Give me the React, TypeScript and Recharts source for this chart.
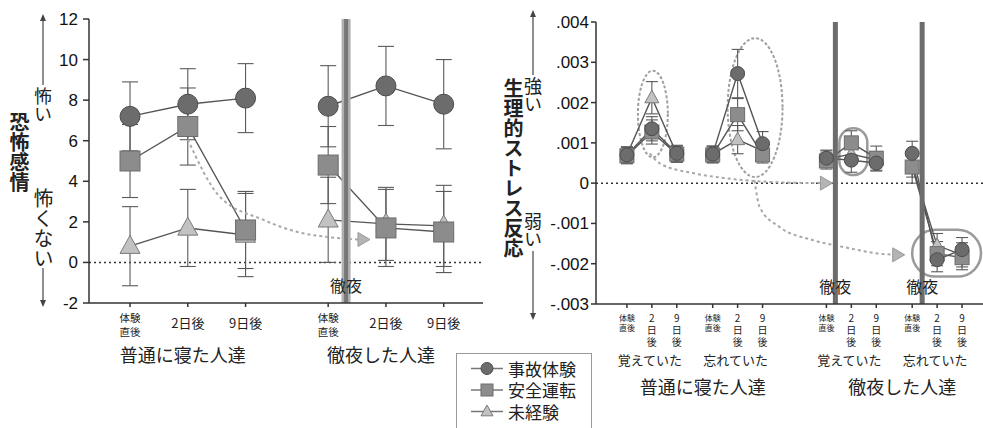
import React from "react";
import {
  ComposedChart,
  Line,
  XAxis,
  YAxis,
  ErrorBar,
  ReferenceLine,
  ReferenceArea,
  ReferenceDot,
} from "recharts";

const JP = '"Noto Sans CJK JP", "Noto Sans", sans-serif';
const NUM = '"Liberation Sans", Arial, sans-serif';
const INK = "#222";

const seriesNames = ["事故体験", "安全運転", "未経験"];
const timeLabels = ["体験直後", "2日後", "9日後"];
const sleepGroups = ["普通に寝た人達", "徹夜した人達"];
const memoryGroups = ["覚えていた", "忘れていた"];

// 恐怖感情: 普通に寝た人達 x3, 徹夜した人達 x3
const fearAccident = [7.2, 7.8, 8.1, 7.7, 8.7, 7.8];
const fearAccidentErr = [1.7, 1.75, 1.7, 2.0, 1.95, 2.2];
const fearSafe = [5.0, 6.7, 1.6, 4.8, 1.7, 1.5];
const fearSafeErr = [1.8, 1.9, 1.9, 1.9, 1.9, 2.0];
const fearNone = [0.8, 1.7, 1.35, 2.1, 1.9, 1.8];
const fearNoneErr = [1.95, 1.9, 2.05, 2.1, 1.8, 2.0];
const fearTicks = [-2, 0, 2, 4, 6, 8, 10, 12];

// 生理的ストレス反応: (普通/徹夜) x (覚えていた/忘れていた) x (直後, 2日後, 9日後)
const stressAccident = [0.0007, 0.00135, 0.00074, 0.00072, 0.00272, 0.00098, 0.00062, 0.00057, 0.0005, 0.00074, -0.0019, -0.00165];
const stressAccidentErr = [0.0002, 0.0003, 0.0002, 0.0002, 0.0006, 0.0003, 0.0002, 0.0003, 0.0002, 0.0003, 0.0003, 0.0003];
const stressSafe = [0.00068, 0.00127, 0.00072, 0.0007, 0.0017, 0.0007, 0.00055, 0.001, 0.00062, 0.0004, -0.00175, -0.00185];
const stressSafeErr = [0.0002, 0.0003, 0.0002, 0.0002, 0.0004, 0.0002, 0.0002, 0.0003, 0.0003, 0.0004, 0.0003, 0.0003];
const stressNone = [0.0007, 0.00212, 0.00072, 0.00072, 0.00108, 0.0008, 0.0006, 0.00072, 0.00058, 0.00045, -0.00155, -0.00178];
const stressNoneErr = [0.0002, 0.0004, 0.0002, 0.0002, 0.00035, 0.0002, 0.0002, 0.0002, 0.0002, 0.0003, 0.0003, 0.0003];
const stressTicks = [-0.003, -0.002, -0.001, 0, 0.001, 0.002, 0.003, 0.004];

// annotations (axis units)
const fearArrowPath = [
  { x: 1.0, y: 6.06 },
  { x: 1.55, y: 3.25 },
  { x: 2.29, y: 2.12 },
  { x: 2.93, y: 1.48 },
  { x: 3.5, y: 1.23 },
  { x: 3.95, y: 1.13 },
];
const stressArrowA = [
  { x: 0.92, y: 0.00074 },
  { x: 1.32, y: 0.00049 },
  { x: 2.64, y: 0.00025 },
  { x: 4.0, y: 0.00012 },
  { x: 6.12, y: 0.00002 },
  { x: 7.9, y: 0.0 },
];
const stressArrowB = [
  { x: 5.12, y: 0.00007 },
  { x: 5.32, y: -0.00059 },
  { x: 6.12, y: -0.00109 },
  { x: 7.44, y: -0.00141 },
  { x: 8.8, y: -0.0016 },
  { x: 10.12, y: -0.00175 },
  { x: 10.8, y: -0.00178 },
];
const stressRings = [
  { x1: 0.44, x2: 1.64, y1: 0.00064, y2: 0.00279, dashed: true },
  { x1: 4.04, x2: 6.24, y1: 0.00015, y2: 0.0036, dashed: true },
  { x1: 8.52, x2: 9.64, y1: 0.0002, y2: 0.00136, dashed: false },
  { x1: 11.44, x2: 14.2, y1: -0.00232, y2: -0.00116, dashed: false },
];

const markerStyles = [
  { shape: "circle", fill: "#6c6c6c", stroke: "#4c4c4c" },
  { shape: "square", fill: "#8c8c8c", stroke: "#6c6c6c" },
  { shape: "triangle", fill: "#c2c2c2", stroke: "#7a7a7a" },
];

const fearX = (i: number) => Math.floor(i / 3) * 3.43 + (i % 3);
const stressX = (i: number) => Math.floor(i / 6) * 8 + Math.floor((i % 6) / 3) * 3.44 + (i % 3);
const fearPositions = fearAccident.map((_, i) => fearX(i));
const stressPositions = stressAccident.map((_, i) => stressX(i));

const fearSeries = [
  { v: fearAccident, e: fearAccidentErr },
  { v: fearSafe, e: fearSafeErr },
  { v: fearNone, e: fearNoneErr },
];
const stressSeries = [
  { v: stressAccident, e: stressAccidentErr },
  { v: stressSafe, e: stressSafeErr },
  { v: stressNone, e: stressNoneErr },
];

function groupRows(values: number[], errors: number[], pos: (i: number) => number, g: number) {
  return [0, 1, 2].map((k) => ({ x: pos(g * 3 + k), v: values[g * 3 + k], e: errors[g * 3 + k] }));
}

function Marker({ kind, cx, cy, size }: { kind: number; cx: number; cy: number; size: number }) {
  const st = markerStyles[kind];
  if (cx == null || cy == null) return <g />;
  if (st.shape === "circle")
    return <circle cx={cx} cy={cy} r={size / 2} fill={st.fill} stroke={st.stroke} strokeWidth={1} />;
  if (st.shape === "square")
    return (
      <rect x={cx - size / 2} y={cy - size / 2} width={size} height={size} fill={st.fill} stroke={st.stroke} strokeWidth={1} />
    );
  const h = size * 0.9;
  return (
    <polygon
      points={`${cx},${cy - h * 0.6} ${cx - size / 2},${cy + h * 0.4} ${cx + size / 2},${cy + h * 0.4}`}
      fill={st.fill}
      stroke={st.stroke}
      strokeWidth={1}
    />
  );
}

function renderSeries(
  series: { v: number[]; e: number[] }[],
  groups: number,
  pos: (i: number) => number,
  size: number,
  cap: number
) {
  const bars: React.ReactNode[] = [];
  const marks: React.ReactNode[] = [];
  [2, 1, 0].forEach((s) => {
    for (let g = 0; g < groups; g++) {
      const rows = groupRows(series[s].v, series[s].e, pos, g);
      bars.push(
        <Line
          key={`e${s}g${g}`}
          data={rows}
          dataKey="v"
          stroke="none"
          isAnimationActive={false}
          activeDot={false}
          legendType="none"
          dot={false}
        >
          <ErrorBar dataKey="e" width={cap} stroke="#5a5a5a" strokeWidth={1.1} direction="y" />
        </Line>
      );
      marks.push(
        <Line
          key={`s${s}g${g}`}
          data={rows}
          dataKey="v"
          type="linear"
          stroke="#555"
          strokeWidth={1.4}
          isAnimationActive={false}
          activeDot={false}
          legendType="none"
          dot={(p: any) => <Marker key={`d${s}${g}${p.index}`} kind={s} cx={p.cx} cy={p.cy} size={size} />}
        />
      );
    }
  });
  return [...bars, ...marks];
}

function arrowHead(p: any) {
  const { cx, cy } = p;
  return <polygon points={`${cx + 6},${cy} ${cx - 6},${cy - 7} ${cx - 6},${cy + 7}`} fill="#b4b4b4" stroke="#999" strokeWidth={1} />;
}

function FearTick(props: any) {
  const { x, y, payload } = props;
  const i = fearPositions.findIndex((p) => Math.abs(p - payload.value) < 1e-6);
  if (i < 0) return <g />;
  const k = i % 3;
  const g = Math.floor(i / 3);
  const label = timeLabels[k];
  return (
    <g fontFamily={JP} fill={INK}>
      {k === 0 ? (
        <text textAnchor="middle" fontSize={10.5}>
          <tspan x={x} y={y + 15}>{label.slice(0, 2)}</tspan>
          <tspan x={x} y={y + 28.5}>{label.slice(2)}</tspan>
        </text>
      ) : (
        <text x={x} y={y + 21} textAnchor="middle" fontSize={13}>
          {label}
        </text>
      )}
      {k === 1 && (
        <text x={x - 5} y={y + 55} textAnchor="middle" fontSize={18}>
          {sleepGroups[g]}
        </text>
      )}
    </g>
  );
}

function StressTick(props: any) {
  const { x, y, payload } = props;
  const i = stressPositions.findIndex((p) => Math.abs(p - payload.value) < 1e-6);
  if (i < 0) return <g />;
  const k = i % 3;
  const m = Math.floor(i / 3) % 2;
  const g = Math.floor(i / 6);
  const label = timeLabels[k];
  return (
    <g fontFamily={JP} fill={INK}>
      {k === 0 ? (
        <text textAnchor="middle" fontSize={8}>
          <tspan x={x} y={y + 13}>{label.slice(0, 2)}</tspan>
          <tspan x={x} y={y + 23}>{label.slice(2)}</tspan>
        </text>
      ) : (
        <text
          x={x}
          y={y + 5}
          fontSize={10}
          letterSpacing={2}
          style={{ writingMode: "vertical-rl", textOrientation: "upright" } as React.CSSProperties}
        >
          {label}
        </text>
      )}
      {k === 1 && (
        <text x={x - 2} y={y + 57} textAnchor="middle" fontSize={13}>
          {memoryGroups[m]}
        </text>
      )}
      {k === 0 && m === 1 && (
        <text x={x - 10} y={y + 86} textAnchor="middle" fontSize={18}>
          {sleepGroups[g]}
        </text>
      )}
    </g>
  );
}

const fmtStress = (v: number) => {
  if (Math.abs(v) < 1e-9) return "0";
  const s = v.toFixed(3);
  return s.replace("0.", ".");
};

function VText({ text, cx, top, size, bold }: { text: string; cx: number; top: number; size: number; bold?: boolean }) {
  return (
    <div
      style={{
        position: "absolute",
        left: cx - size / 2,
        top,
        width: size,
        writingMode: "vertical-rl",
        fontFamily: JP,
        fontSize: size,
        lineHeight: 1,
        fontWeight: bold ? 700 : 400,
        color: INK,
        whiteSpace: "nowrap",
      }}
    >
      {text}
    </div>
  );
}

function Arrow({ x, y1, y2 }: { x: number; y1: number; y2: number }) {
  const dir = y2 < y1 ? -1 : 1;
  return (
    <g>
      <line x1={x} x2={x} y1={y1} y2={y2 - dir * 5} stroke="#444" strokeWidth={1.2} />
      <polygon points={`${x},${y2} ${x - 3},${y2 - dir * 7} ${x + 3},${y2 - dir * 7}`} fill="#444" />
    </g>
  );
}

const dashedPath = {
  type: "monotone" as const,
  stroke: "#a8a8a8",
  strokeWidth: 2,
  strokeDasharray: "3 3",
  dot: false,
  activeDot: false,
  legendType: "none" as const,
  isAnimationActive: false,
};

const nightLabel = { value: "徹夜", position: "insideBottom" as const, offset: 11, fontSize: 16, fill: INK, fontFamily: JP };

const legendStep = 21.5;

export default function App() {
  return (
    <div style={{ position: "absolute", left: 0, top: 0, width: 983, height: 428, overflow: "hidden", background: "#fff" }}>
      <div style={{ position: "absolute", left: 0, top: 0 }}>
        <ComposedChart width={490} height={428} margin={{ top: 19, right: 7, bottom: 0, left: 0 }}>
          <XAxis
            dataKey="x"
            type="number"
            domain={[-0.71, 6.11]}
            allowDataOverflow
            ticks={fearPositions}
            interval={0}
            height={125}
            tickSize={4}
            tickMargin={0}
            tick={<FearTick />}
            stroke="#333"
            strokeWidth={1.5}
          />
          <YAxis
            type="number"
            domain={[-2, 12]}
            ticks={fearTicks}
            width={89}
            tickSize={6}
            tickMargin={5}
            stroke="#333"
            strokeWidth={1.5}
            tick={{ fontFamily: NUM, fontSize: 17, fill: "#111" }}
          />
          <ReferenceLine y={0} stroke="#333" strokeWidth={1.5} strokeDasharray="2 3" />
          {renderSeries(fearSeries, 2, fearX, 20, 8)}
          <Line data={fearArrowPath} dataKey="y" {...dashedPath} />
          <ReferenceDot x={4.05} y={1.13} shape={arrowHead} ifOverflow="visible" />
          <ReferenceLine x={3.74} stroke="#b0b0b0" strokeWidth={9} />
          <ReferenceLine x={3.74} stroke="#777" strokeWidth={4} label={nightLabel} />
        </ComposedChart>
      </div>

      <div style={{ position: "absolute", left: 490, top: 0 }}>
        <ComposedChart width={493} height={428} margin={{ top: 22, right: 0, bottom: 0, left: 0 }}>
          <XAxis
            dataKey="x"
            type="number"
            domain={[-1.24, 14.28]}
            allowDataOverflow
            ticks={stressPositions}
            interval={0}
            height={124}
            tickSize={4}
            tickMargin={0}
            tick={<StressTick />}
            stroke="#333"
            strokeWidth={1.5}
          />
          <YAxis
            type="number"
            domain={[-0.003, 0.004]}
            ticks={stressTicks}
            width={106}
            tickSize={5}
            tickMargin={2}
            stroke="#333"
            strokeWidth={1.5}
            tickFormatter={fmtStress}
            tick={{ fontFamily: NUM, fontSize: 17, fill: "#111" }}
          />
          <ReferenceLine y={0} stroke="#333" strokeWidth={1.5} strokeDasharray="2 3" />
          {stressRings.map((r, i) => (
            <ReferenceArea
              key={`ring${i}`}
              x1={r.x1}
              x2={r.x2}
              y1={r.y1}
              y2={r.y2}
              ifOverflow="visible"
              shape={(p: any) =>
                r.dashed ? (
                  <ellipse
                    cx={p.x + p.width / 2}
                    cy={p.y + p.height / 2}
                    rx={p.width / 2}
                    ry={p.height / 2}
                    fill="none"
                    stroke="#a0a0a0"
                    strokeWidth={2}
                    strokeDasharray="3 2"
                  />
                ) : (
                  <rect
                    x={p.x}
                    y={p.y}
                    width={p.width}
                    height={p.height}
                    rx={Math.min(p.width, p.height) / 2}
                    fill="none"
                    stroke="#9a9a9a"
                    strokeWidth={2.5}
                  />
                )
              }
            />
          ))}
          {renderSeries(stressSeries, 4, stressX, 14, 6)}
          <Line data={stressArrowA} dataKey="y" {...dashedPath} />
          <Line data={stressArrowB} dataKey="y" {...dashedPath} />
          <ReferenceDot x={8.0} y={0} shape={arrowHead} ifOverflow="visible" />
          <ReferenceDot x={10.9} y={-0.00178} shape={arrowHead} ifOverflow="visible" />
          {[8.36, 11.84].map((bx) => (
            <ReferenceLine key={`bar${bx}`} x={bx} stroke="#6c6c6c" strokeWidth={5} label={nightLabel} />
          ))}
        </ComposedChart>
      </div>

      <svg width={983} height={428} style={{ position: "absolute", left: 0, top: 0, pointerEvents: "none" }}>
        <Arrow x={43} y1={85} y2={14} />
        <Arrow x={43} y1={268} y2={307} />
        <Arrow x={533} y1={75} y2={10} />
        <Arrow x={533} y1={251} y2={320} />
      </svg>

      <VText text="恐怖感情" cx={19} top={112} size={20} bold />
      <VText text="怖い" cx={43} top={87} size={18} />
      <VText text="怖くない" cx={43} top={188} size={20} />
      <VText text="生理的ストレス反応" cx={513} top={78} size={20} bold />
      <VText text="強い" cx={533} top={77} size={18} />
      <VText text="弱い" cx={533} top={212} size={18} />

      <div
        style={{
          position: "absolute",
          left: 456,
          top: 353,
          width: 134,
          height: 90,
          border: "1.5px solid #9a9a9a",
          background: "#fff",
        }}
      >
        <svg width={34} height={80} style={{ position: "absolute", left: 13, top: 0 }}>
          {seriesNames.map((name, i) => (
            <g key={name}>
              <line x1={1} x2={33} y1={14.5 + i * legendStep} y2={14.5 + i * legendStep} stroke="#777" strokeWidth={1.5} />
              <Marker kind={i} cx={17} cy={14.5 + i * legendStep} size={12} />
            </g>
          ))}
        </svg>
        <div
          style={{
            position: "absolute",
            left: 51,
            top: 3.75,
            fontFamily: JP,
            fontSize: 17,
            lineHeight: `${legendStep}px`,
            color: INK,
            whiteSpace: "pre",
          }}
        >
          {seriesNames.join("\n")}
        </div>
      </div>
    </div>
  );
}
